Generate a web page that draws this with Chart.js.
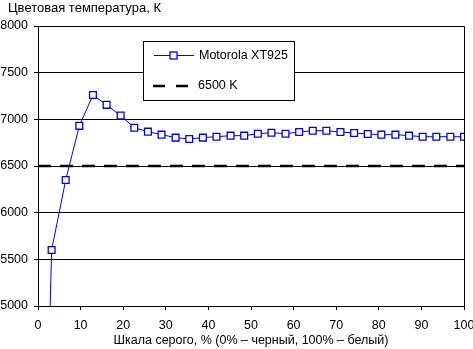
<!DOCTYPE html>
<html>
<head>
<meta charset="utf-8">
<script src="https://cdn.jsdelivr.net/npm/chart.js@4"></script>
<style>
html,body{margin:0;padding:0;background:#fff;}
#wrap{width:473px;height:349px;position:relative;}
</style>
</head>
<body>
<div id="wrap"><canvas id="c" width="473" height="349"></canvas></div>
<script>
const chartTitle = "Цветовая температура, К";
const xAxisTitle = "Шкала серого, % (0% – черный, 100% – белый)";
const seriesName = "Motorola XT925";
const refName = "6500 K";
const grayLevels = [0, 3.2, 6.5, 9.7, 12.9, 16.1, 19.4, 22.6, 25.8, 29.0, 32.3, 35.5, 38.7, 41.9, 45.2, 48.4, 51.6, 54.8, 58.1, 61.3, 64.5, 67.7, 71.0, 74.2, 77.4, 80.6, 83.9, 87.1, 90.3, 93.5, 96.8, 100];
const temperatures = [0, 5600, 6350, 6930, 7260, 7155, 7040, 6910, 6868, 6836, 6804, 6790, 6804, 6814, 6825, 6825, 6846, 6857, 6846, 6864, 6878, 6878, 6864, 6854, 6843, 6836, 6836, 6825, 6814, 6814, 6814, 6814];
const refX = [0, 100];
const refY = [6500, 6500];
const xTicks = {min: 0, max: 100, step: 10};
const yTicks = {min: 5000, max: 8000, step: 500};

const FONT = "'Liberation Sans', Arial, sans-serif";

const overlay = {
  id: 'overlay',
  afterDraw(chart) {
    const ctx = chart.ctx;
    const a = chart.chartArea;
    ctx.save();
    // frame right and top
    ctx.strokeStyle = '#000';
    ctx.lineWidth = 1;
    ctx.beginPath();
    ctx.moveTo(a.left, a.top + 0.5);
    ctx.lineTo(a.right + 0.5, a.top + 0.5);
    ctx.lineTo(a.right + 0.5, a.bottom);
    ctx.stroke();
    // chart title
    ctx.fillStyle = '#000';
    ctx.font = "13px " + FONT;
    ctx.textBaseline = 'middle';
    ctx.textAlign = 'left';
    ctx.fillText(chartTitle, 8, 8);
    // x axis title
    ctx.font = "12.5px " + FONT;
    ctx.textAlign = 'center';
    ctx.fillText(xAxisTitle, (a.left + a.right) / 2, 341);
    // legend box
    ctx.fillStyle = '#fff';
    ctx.fillRect(143, 41, 151, 59);
    ctx.strokeStyle = '#000';
    ctx.lineWidth = 1;
    ctx.strokeRect(143.5, 41.5, 151, 59);
    // entry 1
    ctx.strokeStyle = '#0000ff';
    ctx.lineWidth = 1;
    ctx.beginPath();
    ctx.moveTo(154, 55.5);
    ctx.lineTo(194, 55.5);
    ctx.stroke();
    ctx.fillStyle = '#fff';
    ctx.fillRect(170, 52, 7, 7);
    ctx.lineWidth = 1.3;
    ctx.strokeRect(170, 52, 7, 7);
    ctx.fillStyle = '#000';
    ctx.textAlign = 'left';
    ctx.font = "12.5px " + FONT;
    ctx.fillText(seriesName, 199, 56);
    // entry 2
    ctx.strokeStyle = '#000';
    ctx.lineWidth = 2.5;
    ctx.beginPath();
    ctx.moveTo(153, 86);
    ctx.lineTo(165, 86);
    ctx.moveTo(176, 86);
    ctx.lineTo(188, 86);
    ctx.stroke();
    ctx.fillText(refName, 198, 86);
    ctx.restore();
  }
};

new Chart(document.getElementById('c'), {
  type: 'line',
  data: {
    datasets: [
      {
        label: refName,
        data: refX.map((x, i) => ({x: x, y: refY[i]})),
        borderColor: '#000',
        borderWidth: 2.5,
        borderDash: [13, 9],
        pointRadius: 0,
        fill: false,
        tension: 0,
        order: 2
      },
      {
        label: seriesName,
        data: grayLevels.map((x, i) => ({x: x, y: temperatures[i]})),
        borderColor: '#0000ff',
        borderWidth: 1,
        pointStyle: 'rect',
        pointRadius: 4.8,
        pointBorderWidth: 1.3,
        pointBackgroundColor: '#fff',
        pointBorderColor: '#0000ff',
        fill: false,
        tension: 0,
        order: 1
      }
    ]
  },
  options: {
    responsive: false,
    animation: false,
    devicePixelRatio: 1,
    layout: {padding: {left: 0, right: 9, top: 26, bottom: 0}},
    plugins: {legend: {display: false}, tooltip: {enabled: false}, title: {display: false}},
    scales: {
      x: {
        type: 'linear',
        min: xTicks.min, max: xTicks.max,
        ticks: {stepSize: xTicks.step, color: '#000', font: {family: FONT, size: 12.5}, padding: 8, maxRotation: 0, callback: v => String(v)},
        grid: {drawOnChartArea: false, drawTicks: true, tickLength: 4, color: '#000'},
        border: {display: true, color: '#000', width: 1},
        afterFit(s) { s.height = 43; s.paddingLeft = 0; s.paddingRight = 0; }
      },
      y: {
        min: yTicks.min, max: yTicks.max,
        ticks: {stepSize: yTicks.step, color: '#000', font: {family: FONT, size: 12.5}, padding: 6, callback: v => String(v)},
        grid: {color: '#000', tickLength: 4, lineWidth: 1},
        border: {display: true, color: '#000', width: 1},
        afterFit(s) { s.width = 38; s.paddingTop = 0; s.paddingBottom = 0; }
      }
    }
  },
  plugins: [overlay]
});
</script>
</body>
</html>
